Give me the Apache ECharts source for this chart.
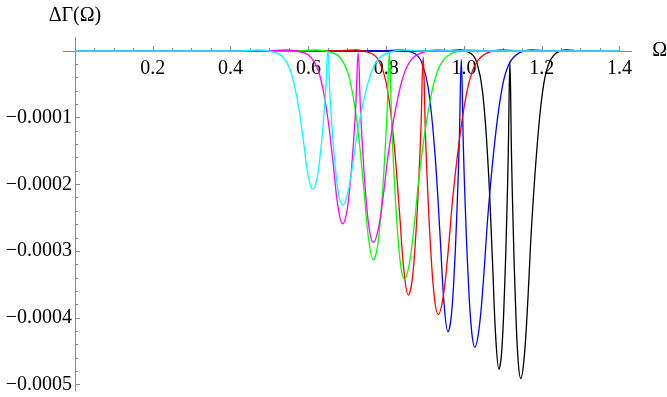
<!DOCTYPE html>
<html><head><meta charset="utf-8">
<script src="https://cdn.jsdelivr.net/npm/echarts@6/dist/echarts.min.js"></script>
<style>html,body{margin:0;padding:0;background:#fff}#c{width:667px;height:397px}</style>
</head><body><div id="c"></div>
<script>
// [Ω, ΔΓ(Ω)] points
const black = [[0,0],[0.950,0],[0.9892,0.015e-4],[1.020,-0.048e-4],[1.034,-0.191e-4],[1.048,-0.620e-4],[1.062,-1.717e-4],[1.0732,-3.148e-4],[1.0816,-4.293e-4],[1.090,-4.77e-4],[1.097,-4.493e-4],[1.104,-3.618e-4],[1.1096,-2.557e-4],[1.1138,-1.543e-4],[1.118,-0.16e-4],[1.1222,-1.585e-4],[1.1264,-2.63e-4],[1.132,-3.723e-4],[1.139,-4.625e-4],[1.146,-4.91e-4],[1.1544,-4.615e-4],[1.1628,-3.879e-4],[1.174,-2.602e-4],[1.188,-1.424e-4],[1.202,-0.614e-4],[1.216,-0.221e-4],[1.2356,-0.039e-4],[1.2636,0.015e-4],[1.300,0],[1.4,0]];
const blue = [[0,0],[0.789,0],[0.8366,0.015e-4],[0.874,-0.042e-4],[0.891,-0.168e-4],[0.908,-0.547e-4],[0.925,-1.516e-4],[0.9386,-2.779e-4],[0.9488,-3.789e-4],[0.959,-4.21e-4],[0.9675,-3.965e-4],[0.976,-3.19e-4],[0.9828,-2.252e-4],[0.9879,-1.354e-4],[0.993,-0.13e-4],[0.9983,-1.423e-4],[1.0035,-2.371e-4],[1.0105,-3.363e-4],[1.0193,-4.181e-4],[1.028,-4.44e-4],[1.0385,-4.174e-4],[1.049,-3.508e-4],[1.063,-2.353e-4],[1.0805,-1.288e-4],[1.098,-0.555e-4],[1.1155,-0.2e-4],[1.14,-0.036e-4],[1.175,0.015e-4],[1.2205,0],[1.4,0]];
const red = [[0,0],[0.667,0],[0.7202,0.015e-4],[0.762,-0.037e-4],[0.781,-0.146e-4],[0.800,-0.476e-4],[0.819,-1.318e-4],[0.8342,-2.416e-4],[0.8456,-3.294e-4],[0.857,-3.66e-4],[0.8665,-3.446e-4],[0.876,-2.768e-4],[0.8836,-1.946e-4],[0.8893,-1.161e-4],[0.895,-0.09e-4],[0.9009,-1.248e-4],[0.9067,-2.097e-4],[0.9145,-2.985e-4],[0.9243,-3.718e-4],[0.934,-3.95e-4],[0.9457,-3.713e-4],[0.9574,-3.121e-4],[0.973,-2.094e-4],[0.9925,-1.146e-4],[1.012,-0.494e-4],[1.0315,-0.178e-4],[1.0588,-0.032e-4],[1.0978,0.015e-4],[1.1485,0],[1.4,0]];
const green = [[0,0],[0.562,0],[0.6194,0.015e-4],[0.6645,-0.031e-4],[0.685,-0.125e-4],[0.7055,-0.407e-4],[0.726,-1.127e-4],[0.7424,-2.066e-4],[0.7547,-2.817e-4],[0.767,-3.13e-4],[0.7773,-2.944e-4],[0.7875,-2.355e-4],[0.7957,-1.642e-4],[0.8019,-0.96e-4],[0.808,-0.03e-4],[0.8139,-1.047e-4],[0.8197,-1.793e-4],[0.8275,-2.573e-4],[0.8373,-3.217e-4],[0.847,-3.42e-4],[0.8587,-3.215e-4],[0.8704,-2.702e-4],[0.886,-1.813e-4],[0.9055,-0.992e-4],[0.925,-0.428e-4],[0.9445,-0.154e-4],[0.9718,-0.027e-4],[1.0108,0.015e-4],[1.0615,0],[1.4,0]];
const magenta = [[0,0],[0.488,0],[0.544,0.015e-4],[0.588,-0.026e-4],[0.608,-0.104e-4],[0.628,-0.337e-4],[0.648,-0.932e-4],[0.664,-1.709e-4],[0.676,-2.331e-4],[0.688,-2.59e-4],[0.698,-2.436e-4],[0.708,-1.95e-4],[0.716,-1.361e-4],[0.722,-0.798e-4],[0.728,-0.03e-4],[0.7339,-0.882e-4],[0.7397,-1.507e-4],[0.7475,-2.16e-4],[0.7573,-2.70e-4],[0.767,-2.87e-4],[0.7787,-2.698e-4],[0.7904,-2.267e-4],[0.806,-1.521e-4],[0.8255,-0.832e-4],[0.845,-0.359e-4],[0.8645,-0.129e-4],[0.8918,-0.023e-4],[0.9308,0.015e-4],[0.9815,0],[1.4,0]];
const cyan = [[0,0],[0.416,0],[0.4706,0.015e-4],[0.5135,-0.021e-4],[0.533,-0.083e-4],[0.5525,-0.269e-4],[0.572,-0.745e-4],[0.5876,-1.366e-4],[0.5993,-1.863e-4],[0.611,-2.07e-4],[0.6208,-1.946e-4],[0.6305,-1.553e-4],[0.6383,-1.076e-4],[0.6442,-0.621e-4],[0.650,0],[0.6557,-0.693e-4],[0.6614,-1.201e-4],[0.669,-1.733e-4],[0.6785,-2.171e-4],[0.688,-2.31e-4],[0.6994,-2.171e-4],[0.7108,-1.825e-4],[0.726,-1.224e-4],[0.745,-0.670e-4],[0.764,-0.289e-4],[0.783,-0.104e-4],[0.8096,-0.018e-4],[0.8476,0.015e-4],[0.897,0],[1.4,0]];

const curves = [
  {name:'black', data:black, color:'#000000'},
  {name:'blue', data:blue, color:'#0000ff'},
  {name:'red', data:red, color:'#ff0000'},
  {name:'green', data:green, color:'#00ff00'},
  {name:'magenta', data:magenta, color:'#ff00ff'},
  {name:'cyan', data:cyan, color:'#00ffff'}
];

const AX = '#8a8a8a';
const FONT = '"Liberation Serif", "Times New Roman", serif';
const FS = 20;
function yLabel(v){ if (Math.abs(v) < 1e-12) return ''; return (v < 0 ? '\u2212' : '') + Math.abs(v).toFixed(4); }
function xLabel(v){ if (Math.abs(v) < 1e-9) return ''; return v.toFixed(1); }

const chart = echarts.init(document.getElementById('c'), null, {renderer:'canvas'});
chart.setOption({
  animation:false,
  backgroundColor:'#ffffff',
  grid:[
    {left:75, top:51, width:544.6, height:333.5, outerBoundsMode:'none', containLabel:false},
    {left:63.3, top:37.7, width:568, height:353.5, outerBoundsMode:'none', containLabel:false}
  ],
  xAxis:[
    {type:'value', gridIndex:0, position:'top', min:0, max:1.4, interval:0.2,
     axisLine:{show:false, onZero:false},
     axisTick:{show:true, inside:false, length:5, lineStyle:{color:AX, width:1}},
     minorTick:{show:true, splitNumber:4, length:3, lineStyle:{color:AX, width:1}},
     splitLine:{show:false}, minorSplitLine:{show:false},
     axisLabel:{formatter:xLabel, inside:true, margin:8, color:'#000', fontFamily:FONT, fontSize:FS}},
    {type:'value', gridIndex:1, min:-0.03, max:1.43,
     axisLine:{show:true, onZero:true, lineStyle:{color:AX, width:1}},
     axisTick:{show:false}, minorTick:{show:false}, axisLabel:{show:false}, splitLine:{show:false},
     name:'Ω', nameLocation:'end', nameGap:21,
     nameTextStyle:{color:'#000', fontFamily:FONT, fontSize:FS, verticalAlign:'middle'}}
  ],
  yAxis:[
    {type:'value', gridIndex:0, position:'left', min:-0.0005, max:0, interval:0.0001,
     axisLine:{show:false, onZero:false},
     axisTick:{show:true, inside:true, length:5, lineStyle:{color:AX, width:1}},
     minorTick:{show:true, splitNumber:5, length:3, lineStyle:{color:AX, width:1}},
     splitLine:{show:false}, minorSplitLine:{show:false},
     axisLabel:{formatter:yLabel, margin:3, color:'#000', fontFamily:FONT, fontSize:FS}},
    {type:'value', gridIndex:1, min:-0.00051, max:0.00002,
     axisLine:{show:true, onZero:true, lineStyle:{color:AX, width:1}},
     axisTick:{show:false}, minorTick:{show:false}, axisLabel:{show:false}, splitLine:{show:false},
     name:'ΔΓ(Ω)', nameLocation:'end', nameGap:22,
     nameTextStyle:{color:'#000', fontFamily:FONT, fontSize:FS, verticalAlign:'middle', align:'center'}}
  ],
  series: curves.map(c => ({
    type:'line', name:c.name, xAxisIndex:0, yAxisIndex:0,
    data:c.data, showSymbol:false, symbol:'none', smooth:0.4, clip:false,
    lineStyle:{color:c.color, width:1.3}, itemStyle:{color:c.color},
    emphasis:{disabled:true}, z:2
  }))
});
</script></body></html>
